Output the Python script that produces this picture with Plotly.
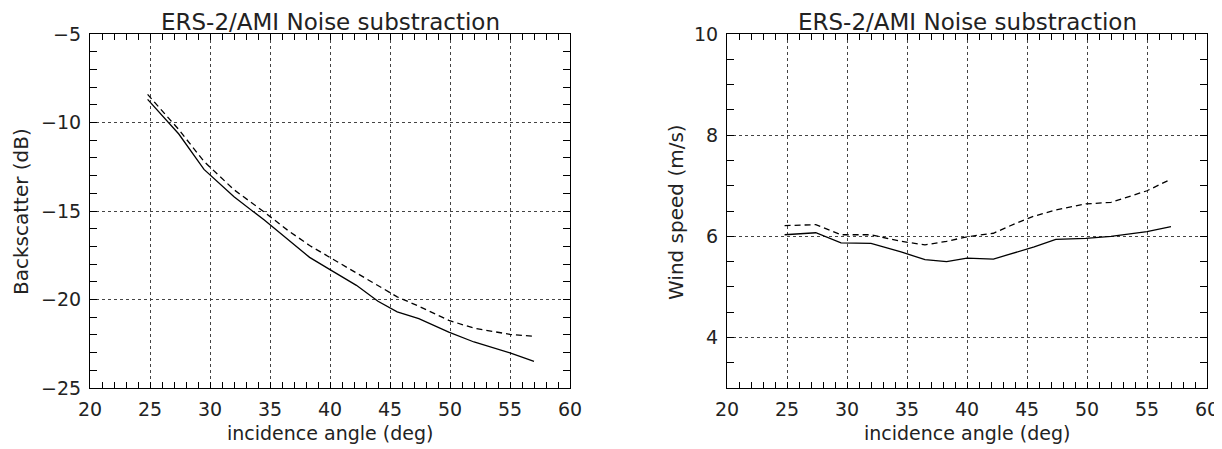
import plotly.graph_objects as go

# ---- data ----
angles = [24.8, 27.4, 29.5, 32.0, 34.5, 36.5, 38.3, 40.0, 42.2, 44.0, 45.6, 47.4, 49.9, 52.0, 55.0, 57.0]
sigma0_solid = [-8.69, -10.65, -12.65, -14.2, -15.5, -16.6, -17.62, -18.31, -19.2, -20.1, -20.7, -21.08, -21.84, -22.4, -23.02, -23.5]
sigma0_dashed = [-8.41, -10.4, -12.2, -13.8, -15.05, -16.1, -16.95, -17.63, -18.5, -19.25, -19.85, -20.38, -21.18, -21.62, -21.97, -22.08]
wind_solid = [6.03, 6.07, 5.87, 5.86, 5.69, 5.54, 5.50, 5.57, 5.55, 5.67, 5.79, 5.94, 5.96, 6.00, 6.09, 6.19]
wind_dashed = [6.21, 6.23, 6.03, 6.03, 5.90, 5.83, 5.90, 5.99, 6.06, 6.25, 6.40, 6.52, 6.64, 6.67, 6.90, 7.13]

title_text = "ERS-2/AMI Noise substraction"
xtitle = "incidence angle (deg)"
ytitle_left = "Backscatter (dB)"
ytitle_right = "Wind speed (m/s)"
x_ticks = [20, 25, 30, 35, 40, 45, 50, 55, 60]
left_ticks = [-25, -20, -15, -10, -5]
right_ticks = [4, 6, 8, 10]

# page body has an 8px margin: size figure to fit the window and offset positions
OFF = 8
W, H = 1222 - OFF, 449 - OFF
FONT = "DejaVu Sans"
INK = "#222222"

fig = go.Figure()
fig.add_trace(go.Scatter(x=angles, y=sigma0_solid, mode="lines",
                         line=dict(color="black", width=1.3), xaxis="x", yaxis="y", showlegend=False))
fig.add_trace(go.Scatter(x=angles, y=sigma0_dashed, mode="lines",
                         line=dict(color="black", width=1.3, dash="6px,4px"), xaxis="x", yaxis="y", showlegend=False))
fig.add_trace(go.Scatter(x=angles, y=wind_solid, mode="lines",
                         line=dict(color="black", width=1.3), xaxis="x2", yaxis="y2", showlegend=False))
fig.add_trace(go.Scatter(x=angles, y=wind_dashed, mode="lines",
                         line=dict(color="black", width=1.3, dash="6px,4px"), xaxis="x2", yaxis="y2", showlegend=False))

def px_x(p):
    return (p - OFF) / W

def px_y(p):
    return 1 - (p - OFF) / H

ydom = [px_y(388), px_y(34)]

common = dict(showline=True, linecolor="black", linewidth=1.2, mirror="allticks",
              ticks="inside", tickcolor="black", tickwidth=1, zeroline=False,
              showgrid=True, gridcolor="#444444", gridwidth=1, griddash="dot",
              tickfont=dict(family=FONT, size=19, color=INK), automargin=False)

fig.update_layout(
    width=W, height=H,
    margin=dict(l=0, r=0, t=0, b=0),
    paper_bgcolor="white", plot_bgcolor="white",
    xaxis=dict(domain=[px_x(90), px_x(570)], range=[20, 60], tickvals=x_ticks, ticklen=6,
               minor=dict(dtick=1, tick0=0, ticks="inside", ticklen=6, tickcolor="black", showgrid=False),
               anchor="y", ticklabelstandoff=4, **common),
    yaxis=dict(domain=ydom, range=[-25, -5], tickvals=left_ticks, ticklen=7,
               minor=dict(dtick=1, tick0=0, ticks="inside", ticklen=7, tickcolor="black", showgrid=False),
               anchor="x", ticklabelstandoff=4, **common),
    xaxis2=dict(domain=[px_x(727), px_x(1207)], range=[20, 60], tickvals=x_ticks, ticklen=6,
                minor=dict(dtick=1, tick0=0, ticks="inside", ticklen=6, tickcolor="black", showgrid=False),
                anchor="y2", ticklabelstandoff=4, **common),
    yaxis2=dict(domain=ydom, range=[3, 10], tickvals=right_ticks, ticklen=7,
                minor=dict(dtick=0.5, tick0=0, ticks="inside", ticklen=7, tickcolor="black", showgrid=False),
                anchor="x2", ticklabelstandoff=4, **common),
)

ann = []
for cx, ytxt, yx in [(330, ytitle_left, 21), (967, ytitle_right, 676)]:
    ann.append(dict(text=title_text, x=px_x(cx), y=1.0, xref="paper", yref="paper",
                    xanchor="center", yanchor="top", showarrow=False, borderpad=0,
                    font=dict(family=FONT, size=23, color=INK)))
    ann.append(dict(text=xtitle, x=px_x(cx), y=px_y(433), xref="paper", yref="paper",
                    xanchor="center", yanchor="middle", showarrow=False,
                    font=dict(family=FONT, size=19, color=INK)))
    ann.append(dict(text=ytxt, x=px_x(yx), y=px_y(212), xref="paper", yref="paper",
                    xanchor="center", yanchor="middle", showarrow=False, textangle=-90,
                    font=dict(family=FONT, size=20, color=INK)))
fig.update_layout(annotations=ann)

fig.write_html("out.html")
